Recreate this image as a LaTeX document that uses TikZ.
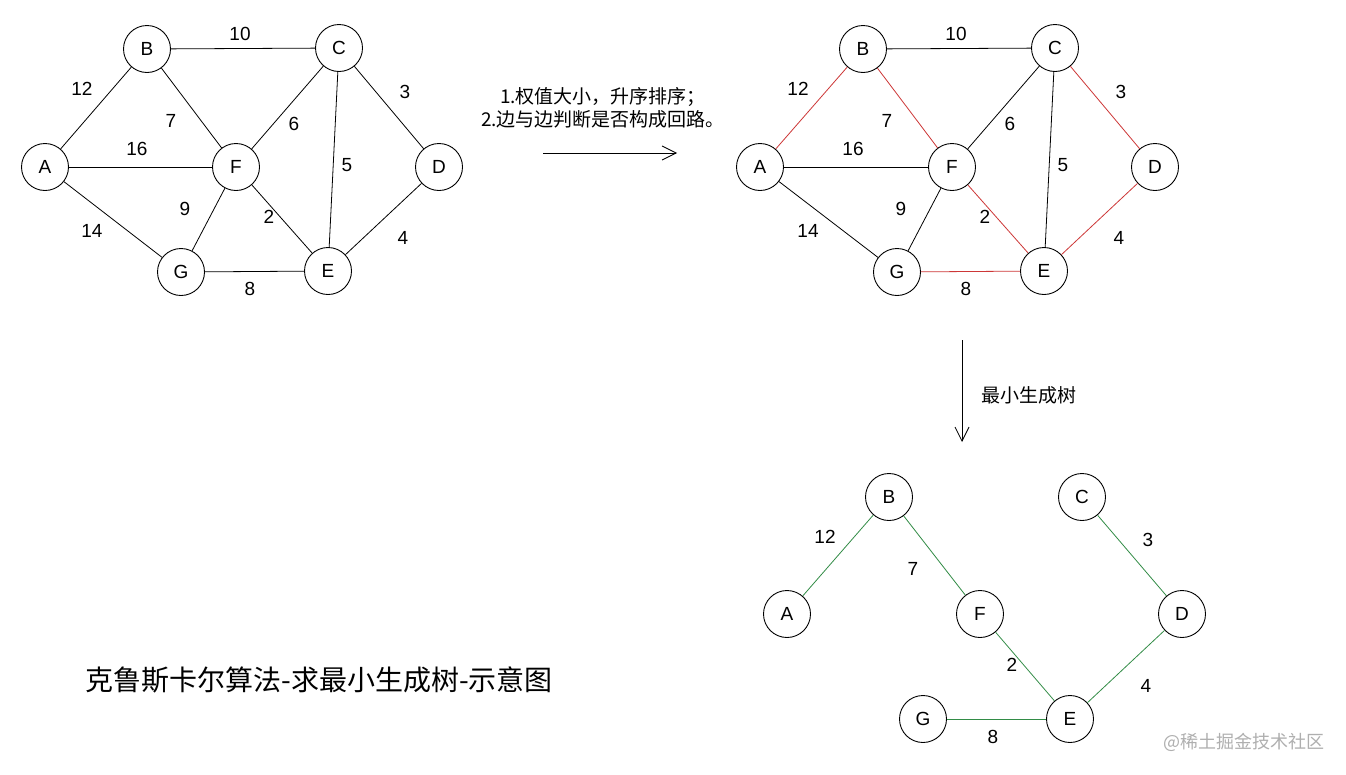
\documentclass[tikz,border=0pt]{standalone}
\usepackage{fontspec}
\setmainfont{Liberation Sans}
\newfontfamily\cjk{Noto Sans CJK SC}
\usetikzlibrary{arrows.meta}
\definecolor{redE}{RGB}{205,55,55}
\definecolor{greenE}{RGB}{50,140,70}
\definecolor{wm}{RGB}{175,175,175}
\begin{document}
\begin{tikzpicture}[x=1pt,y=-1pt,
  vtx/.style={circle,draw=black,line width=0.9pt,minimum size=47pt,inner sep=0pt,font=\fontsize{19}{19}\selectfont},
  edg/.style={line width=0.8pt,black},
  red edge/.style={line width=0.8pt,redE},
  green edge/.style={line width=0.8pt,greenE},
  wt/.style={font=\fontsize{19}{19}\selectfont,inner sep=0pt},
  cn/.style={font=\cjk\fontsize{19}{23}\selectfont,inner sep=0pt,align=center}]
\useasboundingbox[fill=white] (0,0) rectangle (1346,774);
% ---------- graph 1 ----------
\node[vtx] (A1) at (45,167) {A};
\node[vtx] (B1) at (147,49) {B};
\node[vtx] (C1) at (339,48) {C};
\node[vtx] (F1) at (236,167) {F};
\node[vtx] (D1) at (439,167) {D};
\node[vtx] (G1) at (181,272) {G};
\node[vtx] (E1) at (328,271) {E};
\draw[edg] (B1) -- (C1);
\draw[edg] (A1) -- (B1);
\draw[edg] (B1) -- (F1);
\draw[edg] (C1) -- (F1);
\draw[edg] (C1) -- (D1);
\draw[edg] (A1) -- (F1);
\draw[edg] (C1) -- (E1);
\draw[edg] (F1) -- (G1);
\draw[edg] (F1) -- (E1);
\draw[edg] (A1) -- (G1);
\draw[edg] (D1) -- (E1);
\draw[edg] (G1) -- (E1);
\node[wt] (w1a) at (240,34) {10};
\node[wt] (w1b) at (82,89) {12};
\node[wt] (w1c) at (171,121) {7};
\node[wt] (w1d) at (294,124) {6};
\node[wt] (w1e) at (405,92) {3};
\node[wt] (w1f) at (137,149) {16};
\node[wt] (w1g) at (347,165) {5};
\node[wt] (w1h) at (185,209) {9};
\node[wt] (w1i) at (269,217) {2};
\node[wt] (w1j) at (92,231) {14};
\node[wt] (w1k) at (403,238) {4};
\node[wt] (w1l) at (250,289) {8};
% ---------- arrow 1 ----------
\node[cn] (t1) at (603,108) {1.权值大小，升序排序；\\2.边与边判断是否构成回路。};
\coordinate (a1s) at (543,153);
\coordinate (a1e) at (677,153);
\draw[line width=0.8pt,-{Straight Barb[length=14pt,width=14pt]}] (a1s) -- (a1e);
% ---------- graph 2 ----------
\node[vtx] (A2) at (760,167) {A};
\node[vtx] (B2) at (863,49) {B};
\node[vtx] (C2) at (1055,48) {C};
\node[vtx] (F2) at (952,167) {F};
\node[vtx] (D2) at (1155,167) {D};
\node[vtx] (G2) at (897,272) {G};
\node[vtx] (E2) at (1044,271) {E};
\draw[edg] (B2) -- (C2);
\draw[red edge] (A2) -- (B2);
\draw[red edge] (B2) -- (F2);
\draw[edg] (C2) -- (F2);
\draw[red edge] (C2) -- (D2);
\draw[edg] (A2) -- (F2);
\draw[edg] (C2) -- (E2);
\draw[edg] (F2) -- (G2);
\draw[red edge] (F2) -- (E2);
\draw[edg] (A2) -- (G2);
\draw[red edge] (D2) -- (E2);
\draw[red edge] (G2) -- (E2);
\node[wt] (w2a) at (956,34) {10};
\node[wt] (w2b) at (798,89) {12};
\node[wt] (w2c) at (887,121) {7};
\node[wt] (w2d) at (1010,124) {6};
\node[wt] (w2e) at (1121,92) {3};
\node[wt] (w2f) at (853,149) {16};
\node[wt] (w2g) at (1063,165) {5};
\node[wt] (w2h) at (901,209) {9};
\node[wt] (w2i) at (985,217) {2};
\node[wt] (w2j) at (808,231) {14};
\node[wt] (w2k) at (1119,238) {4};
\node[wt] (w2l) at (966,289) {8};
% ---------- arrow 2 ----------
\coordinate (a2s) at (962,340);
\coordinate (a2e) at (962,442);
\draw[line width=0.8pt,-{Straight Barb[length=14pt,width=14pt]}] (a2s) -- (a2e);
\node[cn,anchor=west] (t2) at (981,395) {最小生成树};
% ---------- graph 3 ----------
\node[vtx] (A3) at (787,614) {A};
\node[vtx] (B3) at (889,497) {B};
\node[vtx] (C3) at (1082,497) {C};
\node[vtx] (F3) at (980,614) {F};
\node[vtx] (D3) at (1182,614) {D};
\node[vtx] (G3) at (923,719) {G};
\node[vtx] (E3) at (1070,719) {E};
\draw[green edge] (A3) -- (B3);
\draw[green edge] (B3) -- (F3);
\draw[green edge] (C3) -- (D3);
\draw[green edge] (F3) -- (E3);
\draw[green edge] (D3) -- (E3);
\draw[green edge] (G3) -- (E3);
\node[wt] (w3b) at (825,537) {12};
\node[wt] (w3c) at (913,569) {7};
\node[wt] (w3e) at (1148,540) {3};
\node[wt] (w3i) at (1012,665) {2};
\node[wt] (w3k) at (1146,686) {4};
\node[wt] (w3l) at (993,737) {8};
% ---------- title & watermark ----------
\node[font=\cjk\fontsize{28}{28}\selectfont,inner sep=0pt] (title) at (319,680) {克鲁斯卡尔算法-求最小生成树-示意图};
\node[font=\cjk\fontsize{18}{18}\selectfont,text=wm,inner sep=0pt] (wmk) at (1244,742) {@稀土掘金技术社区};
\end{tikzpicture}
\end{document}
